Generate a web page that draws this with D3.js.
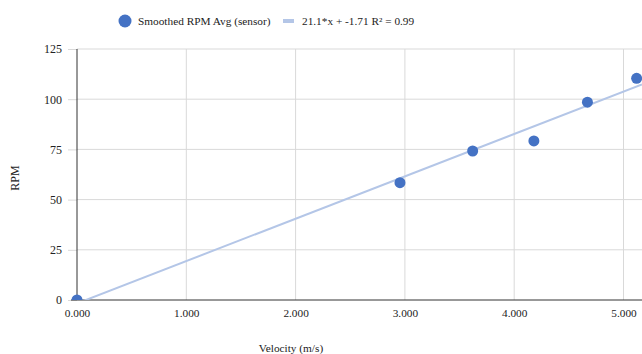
<!DOCTYPE html>
<html><head><meta charset="utf-8">
<script src="https://cdn.jsdelivr.net/npm/d3@7"></script>
<style>body{margin:0;background:#fff}svg{display:block}text{font-family:"Liberation Serif","Times New Roman",serif;fill:#222}</style>
</head><body><svg id="c" width="642" height="354"></svg>
<script>
const velocity = [0.0, 2.955, 3.62, 4.18, 4.67, 5.12];
const rpm = [0, 58.4, 74.2, 79.2, 98.5, 110.4];
const xTicks = [0, 1, 2, 3, 4, 5];
const yTicks = [0, 25, 50, 75, 100, 125];
const slope = 21.1, intercept = -1.71;
const seriesName = "Smoothed RPM Avg (sensor)";
const trendName = "21.1*x + -1.71 R\u00B2 = 0.99";

const FS = 11.3;
const svg = d3.select("#c");
const L = 77, R = 642, T = 49, B = 300;
const x = d3.scaleLinear().domain([0, (R - L) / 109.3]).range([L, R]);
const y = d3.scaleLinear().domain([0, 125]).range([B, T]);

svg.append("defs").append("clipPath").attr("id","pc").append("rect")
  .attr("x", 0).attr("y", T - 10).attr("width", R).attr("height", B - T + 10);

// grid
svg.append("g").selectAll("line").data(yTicks.slice(1)).join("line")
  .attr("x1", L).attr("x2", R).attr("y1", d=>y(d)).attr("y2", d=>y(d))
  .attr("stroke", "#d9d9d9").attr("stroke-width", 1);
svg.append("g").selectAll("line").data(xTicks.slice(1)).join("line")
  .attr("y1", T).attr("y2", B).attr("x1", d=>x(d)).attr("x2", d=>x(d))
  .attr("stroke", "#d9d9d9").attr("stroke-width", 1);

// y axis
const ya = svg.append("g").attr("transform", `translate(${L},0)`)
  .call(d3.axisLeft(y).tickValues(yTicks).tickSize(9).tickPadding(6));
ya.select(".domain").remove();
ya.selectAll(".tick line").attr("stroke", "#d9d9d9");
ya.selectAll("text").attr("font-size", 12).attr("font-family", "Liberation Serif").attr("fill", "#222");
svg.append("line").attr("x1", L).attr("x2", L).attr("y1", T).attr("y2", B).attr("stroke", "#333");

// x axis
const xa = svg.append("g").attr("transform", `translate(0,${B})`)
  .call(d3.axisBottom(x).tickValues(xTicks).tickFormat(d3.format(".3f")).tickSize(0).tickPadding(9));
xa.select(".domain").remove();
xa.selectAll("text").attr("font-size", FS).attr("font-family", "Liberation Serif").attr("fill", "#222");
svg.append("line").attr("x1", L - 6).attr("x2", R).attr("y1", B).attr("y2", B).attr("stroke", "#333");

// trendline
const xEnd = x.domain()[1];
svg.append("line").attr("clip-path", "url(#pc)")
  .attr("x1", x(0)).attr("y1", y(intercept))
  .attr("x2", x(xEnd)).attr("y2", y(slope * xEnd + intercept))
  .attr("stroke", "#b4c6e7").attr("stroke-width", 2);

// points
svg.append("g").attr("clip-path", "url(#pc)").selectAll("circle").data(velocity).join("circle")
  .attr("cx", (d)=>x(d)).attr("cy", (d,i)=>y(rpm[i])).attr("r", 5.5).attr("fill", "#4472c4");

// legend
svg.append("circle").attr("cx", 125).attr("cy", 21).attr("r", 6.5).attr("fill", "#4472c4");
svg.append("text").attr("x", 138).attr("y", 25).attr("font-size", FS).text(seriesName);
svg.append("line").attr("x1", 283).attr("x2", 294).attr("y1", 21).attr("y2", 21).attr("stroke", "#b4c6e7").attr("stroke-width", 4);
svg.append("text").attr("x", 302).attr("y", 25).attr("font-size", FS).text(trendName);

// axis titles
svg.append("text").attr("x", 291).attr("y", 352).attr("text-anchor", "middle").attr("font-size", FS).text("Velocity (m/s)");
svg.append("text").attr("transform", "translate(19,178) rotate(-90)").attr("text-anchor", "middle").attr("font-size", 12).text("RPM");
</script></body></html>
